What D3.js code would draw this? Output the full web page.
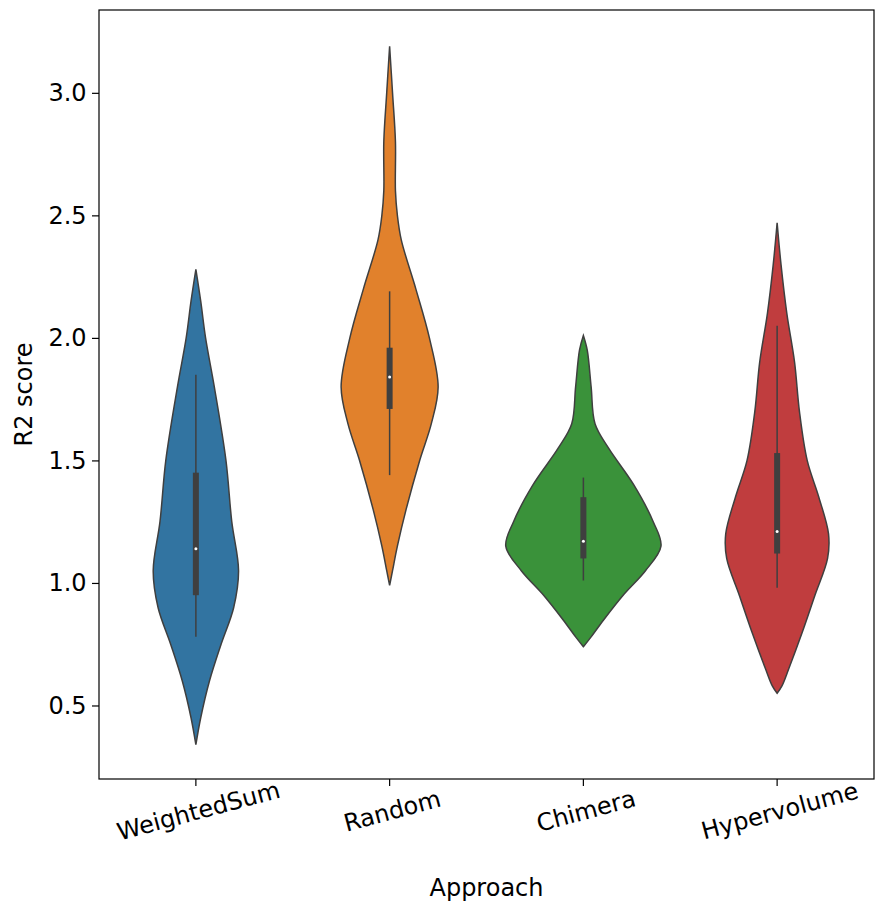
<!DOCTYPE html>
<html>
<head>
<meta charset="utf-8">
<script src="https://cdn.jsdelivr.net/npm/d3@7"></script>
<style>
  body { margin: 0; background: #fff; }
  text { font-family: "DejaVu Sans", sans-serif; fill: #000; }
</style>
</head>
<body>
<svg id="chart" width="884" height="912"></svg>
<script>
// Categories and colours
const categories = ["WeightedSum", "Random", "Chimera", "Hypervolume"];
const colors = ["#3274a1", "#e1812c", "#3a923a", "#c03d3e"];
const yTicks = [0.5, 1.0, 1.5, 2.0, 2.5, 3.0];

// Density profiles: [R2 value, relative density]
const densityWeightedSum = [[0.34, 0], [0.45, 0.05], [0.6, 0.14], [0.75, 0.26], [0.9, 0.39], [1.05, 0.44], [1.25, 0.37], [1.5, 0.31], [1.8, 0.19], [2.0, 0.1], [2.15, 0.05], [2.28, 0]];
const densityRandom = [[0.99, 0], [1.05, 0.03], [1.15, 0.08], [1.3, 0.17], [1.5, 0.31], [1.65, 0.43], [1.8, 0.5], [2.0, 0.41], [2.2, 0.27], [2.4, 0.12], [2.5, 0.08], [2.6, 0.06], [2.8, 0.06], [3.0, 0.03], [3.19, 0]];
const densityChimera = [[0.74, 0], [0.78, 0.08], [0.85, 0.21], [0.95, 0.41], [1.05, 0.64], [1.15, 0.8], [1.25, 0.72], [1.4, 0.52], [1.55, 0.26], [1.65, 0.12], [1.8, 0.08], [1.95, 0.04], [2.01, 0]];
const densityHypervolume = [[0.55, 0], [0.58, 0.05], [0.65, 0.12], [0.8, 0.26], [0.95, 0.39], [1.1, 0.52], [1.2, 0.53], [1.35, 0.43], [1.5, 0.31], [1.7, 0.23], [1.9, 0.18], [2.1, 0.1], [2.3, 0.04], [2.47, 0]];
const densities = [densityWeightedSum, densityRandom, densityChimera, densityHypervolume];

// Box stats: [whisker low, q1, median, q3, whisker high]
const boxStats = [
  [0.78, 0.95, 1.14, 1.45, 1.85],
  [1.44, 1.71, 1.84, 1.96, 2.19],
  [1.01, 1.10, 1.17, 1.35, 1.43],
  [0.98, 1.12, 1.21, 1.53, 2.05]
];

const svg = d3.select("#chart");
const margin = { top: 10, right: 10, bottom: 133, left: 99 };
const width = 884, height = 912;

const x = d3.scaleBand().domain(categories).range([margin.left, width - margin.right]).padding(0);
const y = d3.scaleLinear().domain([0.2, 3.338]).range([height - margin.bottom, margin.top]);
const w = d3.scaleLinear().domain([0, 1]).range([0, 97]);

// Violins
categories.forEach((c, i) => {
  const cx = x(c) + x.bandwidth() / 2;
  const area = d3.area()
    .y(d => y(d[0]))
    .x0(d => cx - w(d[1]))
    .x1(d => cx + w(d[1]))
    .curve(d3.curveBasis);
  svg.append("path")
    .datum(densities[i])
    .attr("d", area.curve(d3.curveCatmullRom.alpha(0.5)))
    .attr("fill", colors[i])
    .attr("stroke", "#3f3f3f")
    .attr("stroke-width", 1.5);

  const s = boxStats[i];
  svg.append("line")
    .attr("x1", cx).attr("x2", cx)
    .attr("y1", y(s[0])).attr("y2", y(s[4]))
    .attr("stroke", "#3f3f3f").attr("stroke-width", 1.5);
  svg.append("line")
    .attr("x1", cx).attr("x2", cx)
    .attr("y1", y(s[1])).attr("y2", y(s[3]))
    .attr("stroke", "#3f3f3f").attr("stroke-width", 6);
  svg.append("circle")
    .attr("cx", cx).attr("cy", y(s[2]))
    .attr("r", 1.5).attr("fill", "#fff");
});

// Axes
const yAxis = svg.append("g")
  .attr("transform", `translate(${margin.left},0)`)
  .call(d3.axisLeft(y).tickValues(yTicks).tickFormat(d3.format(".1f")).tickSize(7).tickSizeOuter(0));
yAxis.selectAll("text").style("font-size", "24px").attr("dx", "-0.1em");

const xAxis = svg.append("g")
  .attr("transform", `translate(0,${height - margin.bottom})`)
  .call(d3.axisBottom(x).tickSize(7).tickSizeOuter(0));
xAxis.selectAll("text")
  .style("font-size", "24px")
  .style("text-anchor", "middle")
  .attr("transform", "translate(0,22) rotate(-15)")
  .attr("dy", "0.35em").attr("y", 10);

svg.selectAll(".domain").remove();
svg.selectAll(".tick line").attr("stroke", "#000").attr("stroke-width", 1.2);

// Frame
svg.append("rect")
  .attr("x", margin.left).attr("y", margin.top)
  .attr("width", width - margin.left - margin.right)
  .attr("height", height - margin.top - margin.bottom)
  .attr("fill", "none").attr("stroke", "#000").attr("stroke-width", 1.2);

// Axis titles
svg.append("text")
  .attr("x", (margin.left + width - margin.right) / 2).attr("y", 896)
  .attr("text-anchor", "middle").style("font-size", "24px").text("Approach");
svg.append("text")
  .attr("transform", `translate(32,${(margin.top + height - margin.bottom) / 2}) rotate(-90)`)
  .attr("text-anchor", "middle").style("font-size", "24px").text("R2 score");
</script>
</body>
</html>
